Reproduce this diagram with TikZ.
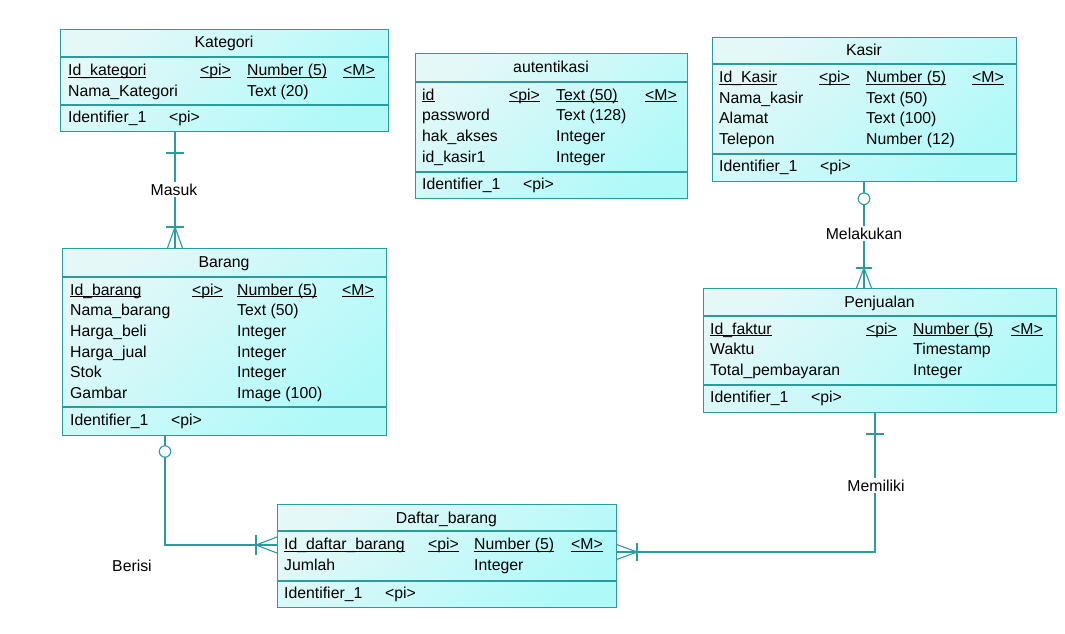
\documentclass[tikz,border=0pt]{standalone}
\usepackage{fontspec}
\setmainfont{Liberation Sans}
\usetikzlibrary{calc}

\definecolor{erline}{HTML}{2A9C9C}
\definecolor{erlight}{HTML}{E4F8F8}
\definecolor{erdark}{HTML}{B0F9F9}

% underline for key attributes
\newcommand\keyul[1]{\setbox0\hbox{#1}\rlap{\rule[-2.2pt]{\wd0}{0.9pt}}\box0}

% column positions of the current entity
\newcommand\setcols[4]{\def\colA{#1}\def\colB{#2}\def\colC{#3}\def\colD{#4}}
\newcommand\keyrow[4]{%
  \node[attr] (#1-n) at (\colA,-#2) {\keyul{#3}};
  \node[attr] (#1-p) at (\colB,-#2) {\keyul{<pi>}};
  \node[attr] (#1-t) at (\colC,-#2) {\keyul{#4}};
  \node[attr] (#1-m) at (\colD,-#2) {\keyul{<M>}};}
\newcommand\plainrow[4]{%
  \node[attr] (#1-n) at (\colA,-#2) {#3};
  \node[attr] (#1-t) at (\colC,-#2) {#4};}
\newcommand\idrow[2]{%
  \node[attr] (#1-n) at (\colA,-#2) {Identifier\_1};
  \node[attr] (#1-p) at ({\colA+101},-#2) {<pi>};}
\newcommand\entlines[3]{%
  \draw[sepline] ([yshift=-#2pt]#1.north west) -- ([yshift=-#2pt]#1.north east);
  \draw[sepline] ([yshift=-#3pt]#1.north west) -- ([yshift=-#3pt]#1.north east);}

\tikzset{
  x=1pt, y=1pt,
  every node/.style={font=\fontsize{15.8}{19}\selectfont},
  entity/.style={rectangle, draw=erline, line width=1.1pt,
    top color=erlight, bottom color=erdark, shading angle=40,
    inner sep=0pt, anchor=north west},
  sepline/.style={draw=erline, line width=1.1pt},
  attr/.style={anchor=base west, inner sep=0pt},
  title/.style={anchor=base, inner sep=0pt},
  rel/.style={draw=erline, line width=1.1pt},
  rellabel/.style={anchor=base, fill=white, inner sep=2pt},
}

\begin{document}
\begin{tikzpicture}
\useasboundingbox[fill=white] (0,0) rectangle (1065,-634);

% ---------- entity boxes ----------
\node[entity, minimum width=328pt, minimum height=102pt] (kat) at (60,-29) {};
\node[entity, minimum width=272pt, minimum height=145pt] (aut) at (415,-53) {};
\node[entity, minimum width=304pt, minimum height=144pt] (kas) at (712,-37) {};
\node[entity, minimum width=324pt, minimum height=187pt] (bar) at (62,-248) {};
\node[entity, minimum width=353pt, minimum height=124pt] (pen) at (703,-288) {};
\node[entity, minimum width=339pt, minimum height=103pt] (dft) at (277,-504) {};

\entlines{kat}{28}{76}
\entlines{aut}{29}{119}
\entlines{kas}{27}{117}
\entlines{bar}{29}{159}
\entlines{pen}{28}{97}
\entlines{dft}{27}{77}

% ---------- Kategori ----------
\node[title] (kat-title) at (224,-48) {Kategori};
\setcols{68}{200}{247}{343}
\keyrow{kat1}{75.3}{Id\_kategori}{Number (5)}
\plainrow{kat2}{96}{Nama\_Kategori}{Text (20)}
\idrow{katid}{122}

% ---------- autentikasi ----------
\node[title] (aut-title) at (551,-72) {autentikasi};
\setcols{422}{509}{556}{645}
\keyrow{aut1}{100}{id}{Text (50)}
\plainrow{aut2}{120.7}{password}{Text (128)}
\plainrow{aut3}{141.4}{hak\_akses}{Integer}
\plainrow{aut4}{162.1}{id\_kasir1}{Integer}
\idrow{autid}{189}

% ---------- Kasir ----------
\node[title] (kas-title) at (864,-56) {Kasir};
\setcols{719}{819}{866}{972}
\keyrow{kas1}{82.5}{Id\_Kasir}{Number (5)}
\plainrow{kas2}{103.2}{Nama\_kasir}{Text (50)}
\plainrow{kas3}{123.9}{Alamat}{Text (100)}
\plainrow{kas4}{144.6}{Telepon}{Number (12)}
\idrow{kasid}{171}

% ---------- Barang ----------
\node[title] (bar-title) at (224,-267) {Barang};
\setcols{70}{192}{237}{342}
\keyrow{bar1}{295}{Id\_barang}{Number (5)}
\plainrow{bar2}{315.7}{Nama\_barang}{Text (50)}
\plainrow{bar3}{336.4}{Harga\_beli}{Integer}
\plainrow{bar4}{357.1}{Harga\_jual}{Integer}
\plainrow{bar5}{377.8}{Stok}{Integer}
\plainrow{bar6}{398.5}{Gambar}{Image (100)}
\idrow{barid}{425}

% ---------- Penjualan ----------
\node[title] (pen-title) at (879.5,-307) {Penjualan};
\setcols{710}{866}{913}{1011}
\keyrow{pen1}{334}{Id\_faktur}{Number (5)}
\plainrow{pen2}{354.7}{Waktu}{Timestamp}
\plainrow{pen3}{375.4}{Total\_pembayaran}{Integer}
\idrow{penid}{402}

% ---------- Daftar_barang ----------
\node[title] (dft-title) at (446.5,-523) {Daftar\_barang};
\setcols{284}{428}{474}{571}
\keyrow{dft1}{549.3}{Id\_daftar\_barang}{Number (5)}
\plainrow{dft2}{570}{Jumlah}{Integer}
\idrow{dftid}{598}

% ---------- relationships ----------
\coordinate (mx) at (175,0);
\coordinate (lx) at (864,0);
\coordinate (bx) at (165,0);
\coordinate (by) at (0,-545);
\coordinate (px) at (875,0);
\coordinate (py) at (0,-552);

% Kategori -- Barang
\draw[rel] (kat.south -| mx) -- (bar.north -| mx);
\draw[rel] (166,-153) -- (184,-153);
\draw[rel] (166,-227) -- (184,-227);
\draw[rel] (167.5,-248) -- (175,-227) -- (182.5,-248);

% Kasir -- Penjualan
\draw[rel] (kas.south -| lx) -- (pen.north -| lx);
\draw[rel, fill=white] (864,-198.8) circle (5.8);
\draw[rel] (856,-268) -- (872,-268);
\draw[rel] (856.5,-288) -- (864,-268) -- (871.5,-288);

% Barang -- Daftar_barang
\draw[rel] (bar.south -| bx) |- (dft.west |- by);
\draw[rel, fill=white] (165,-451.5) circle (5.7);
\draw[rel] (256,-535) -- (256,-555);
\draw[rel] (277,-537) -- (256,-545) -- (277,-553);

% Penjualan -- Daftar_barang
\draw[rel] (pen.south -| px) |- (dft.east |- py);
\draw[rel] (866,-434) -- (884,-434);
\draw[rel] (637,-543) -- (637,-561);
\draw[rel] (616,-544.3) -- (637,-552) -- (616,-559.7);

% relationship names
\node[rellabel] (l-masuk) at (174,-195) {Masuk};
\node[rellabel] (l-melakukan) at (864,-239) {Melakukan};
\node[rellabel] (l-memiliki) at (876,-491) {Memiliki};
\node[anchor=base, inner sep=0pt] (l-berisi) at (132,-571) {Berisi};
\end{tikzpicture}
\end{document}
